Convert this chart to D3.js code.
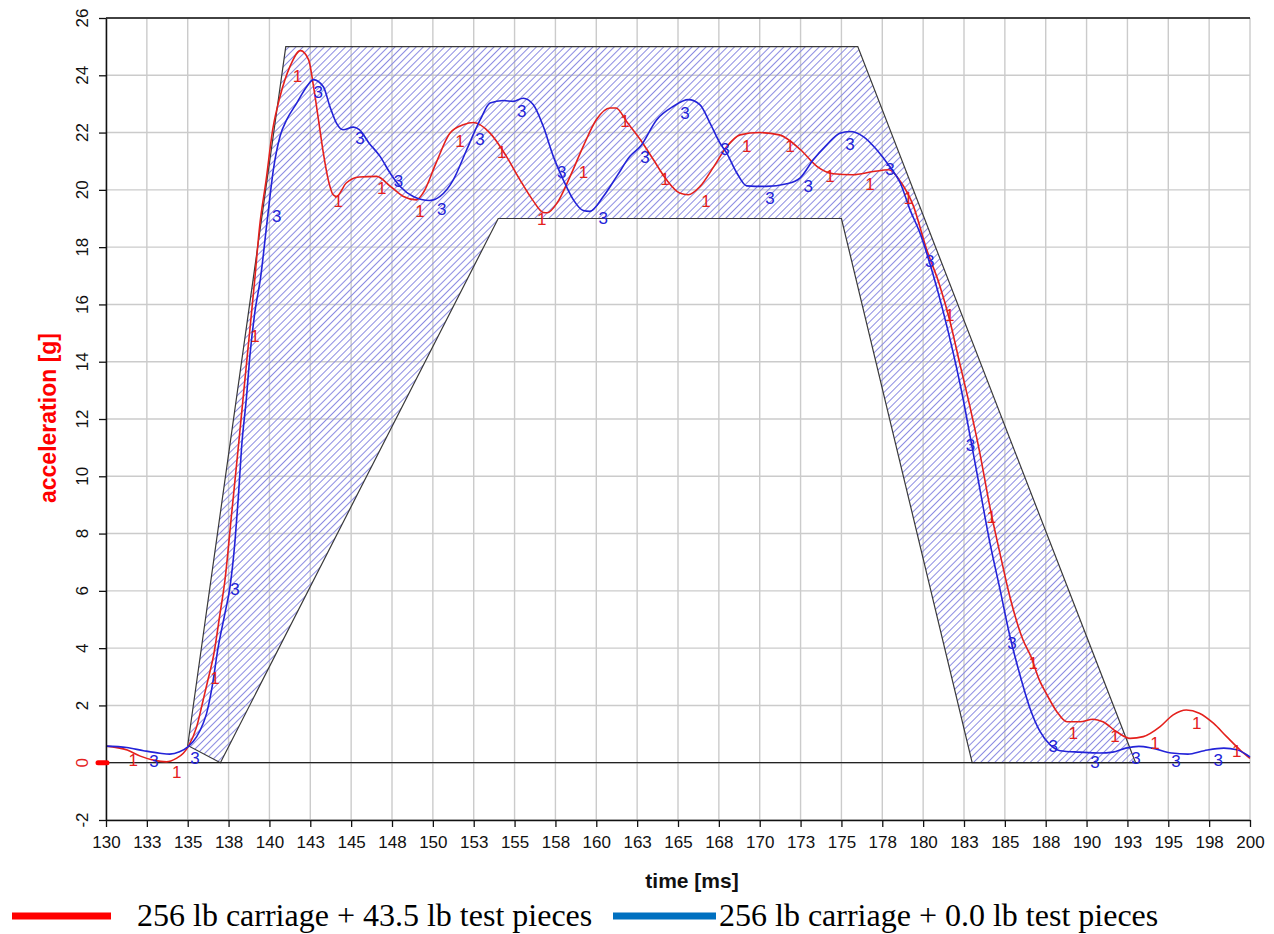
<!DOCTYPE html>
<html lang="en">
<head>
<meta charset="UTF-8">
<title>Sled pulse corridor</title>
<script src="https://d3js.org/d3.v7.min.js"></script>
<style>
  body { margin: 0; background: #fff; }
  svg { display: block; }
</style>
</head>
<body>
<svg id="chart" width="1274" height="934"></svg>
<script>
// ---- data (time in ms, acceleration in g) ----
const xTickValues = [130, 132.5, 135, 137.5, 140, 142.5, 145, 147.5, 150, 152.5, 155, 157.5, 160, 162.5, 165,
  167.5, 170, 172.5, 175, 177.5, 180, 182.5, 185, 187.5, 190, 192.5, 195, 197.5, 200];
const xTickLabels = ["130", "133", "135", "138", "140", "143", "145", "148", "150", "153", "155", "158", "160", "163", "165",
  "168", "170", "173", "175", "178", "180", "183", "185", "188", "190", "193", "195", "198", "200"];
const yTickValues = [-2, 0, 2, 4, 6, 8, 10, 12, 14, 16, 18, 20, 22, 24, 26];
const yTickLabels = ["-2", "0", "2", "4", "6", "8", "10", "12", "14", "16", "18", "20", "22", "24", "26"];

// corridor: outer (upper) bound then inner (lower) bound
const corridorOuter = [[135, 0.6], [141, 25], [176, 25], [193, 0]];
const corridorInner = [[183, 0], [175, 19], [154, 19], [137, 0]];

// test 1: 256 lb carriage + 43.5 lb
const redCurve = [
  [130, 0.58], [131.3, 0.44], [132.1, 0.23], [132.9, 0.09], [133.7, 0.03], [134.3, 0.15], [134.73, 0.33],
  [135.03, 0.56], [135.55, 1.26], [135.95, 2.2], [136.2, 2.8], [136.6, 3.8], [136.98, 5.22], [137.28, 6.38],
  [137.69, 8.71], [138.1, 11.04], [138.5, 13.37], [138.8, 15.1], [139.1, 16.86], [139.4, 18.72],
  [139.8, 20.35], [140.2, 22.1], [140.65, 23.26], [141.26, 24.31], [141.9, 24.86], [142.4, 24.54],
  [142.7, 23.6], [143.0, 22.45], [143.3, 21.28], [143.6, 20.35], [143.9, 19.83], [144.1, 19.77],
  [144.7, 20.24], [145.5, 20.45], [146.56, 20.47], [147.4, 20.12], [148.2, 19.77], [149.0, 19.65],
  [149.4, 19.89], [150.2, 20.94], [151.04, 21.98], [151.86, 22.27], [152.5, 22.35], [153.5, 21.98],
  [154.5, 21.17], [155.33, 20.35], [156.1, 19.65], [156.76, 19.21], [157.0, 19.2], [157.6, 19.54],
  [158.4, 20.47], [159.2, 21.52], [160.0, 22.45], [160.84, 22.86], [161.2, 22.86], [161.9, 22.35],
  [162.7, 21.75], [163.5, 21.05], [164.3, 20.35], [165.1, 19.89], [165.63, 19.83], [166.35, 20.12],
  [167.2, 20.82], [168.0, 21.52], [168.8, 21.92], [170.0, 22.0], [171.2, 21.92], [172.5, 21.4],
  [173.5, 20.82], [174.5, 20.56], [175.7, 20.53], [176.95, 20.64], [177.9, 20.7], [178.6, 20.3],
  [179.4, 19.44], [180.2, 17.94], [181.0, 16.69], [181.63, 15.44], [182.24, 13.94], [182.86, 12.44],
  [183.47, 10.81], [184.08, 8.94], [184.7, 7.31], [185.3, 5.81], [186.1, 4.3], [186.6, 3.7],
  [187.1, 2.9], [187.55, 2.4], [188.16, 1.8], [188.8, 1.43], [189.6, 1.43], [190.4, 1.52],
  [191.0, 1.43], [191.84, 1.08], [192.66, 0.85], [193.47, 0.91], [194.5, 1.26], [195.3, 1.67],
  [196.1, 1.84], [196.9, 1.73], [197.76, 1.38], [198.57, 0.91], [199.4, 0.44], [200, 0.15]
];

// test 3: 256 lb carriage + 0.0 lb
const blueCurve = [
  [130, 0.58], [131.27, 0.53], [132.3, 0.42], [133.3, 0.33], [133.9, 0.3], [134.5, 0.38], [135.03, 0.56],
  [135.55, 0.91], [135.95, 1.38], [136.16, 1.73], [136.46, 2.54], [136.87, 4.05], [137.28, 5.22],
  [137.59, 6.15], [137.9, 7.78], [138.1, 9.29], [138.3, 11.04], [138.6, 12.78], [138.8, 14.18],
  [139.1, 15.7], [139.45, 16.9], [139.87, 18.96], [140.24, 20.7], [140.65, 21.87], [141.06, 22.45],
  [141.67, 23.03], [142.28, 23.6], [142.69, 23.85], [143.3, 23.6], [143.7, 22.91], [144.1, 22.33],
  [144.5, 22.1], [145.13, 22.19], [145.5, 22.1], [146.1, 21.63], [146.77, 21.17], [147.38, 20.59],
  [148.0, 20.12], [148.8, 19.77], [149.8, 19.63], [150.44, 19.77], [151.25, 20.35], [152.07, 21.4],
  [152.9, 22.45], [153.5, 23.03], [154.3, 23.12], [154.92, 23.09], [155.53, 23.2], [156.15, 22.97],
  [156.76, 22.21], [157.37, 21.17], [157.98, 20.35], [158.6, 19.65], [159.2, 19.28], [159.6, 19.25],
  [160.43, 19.77], [161.25, 20.47], [162.06, 21.17], [162.7, 21.52], [163.7, 22.45], [164.7, 22.91],
  [165.63, 23.15], [166.35, 22.97], [166.96, 22.33], [167.57, 21.63], [167.98, 21.28], [168.6, 20.59],
  [169.2, 20.14], [170.4, 20.12], [171.65, 20.21], [172.46, 20.41], [173.28, 21.05], [174.1, 21.57],
  [174.9, 21.98], [175.52, 22.04], [176.34, 21.86], [177.16, 21.4], [177.97, 20.8], [178.6, 20.24],
  [179.2, 19.3], [179.8, 18.5], [180.6, 17.06], [181.2, 15.81], [181.84, 14.31], [182.45, 12.69],
  [182.86, 11.44], [183.47, 9.56], [184.08, 7.69], [184.7, 6.06], [185.3, 4.44], [185.92, 3.07],
  [186.53, 1.91], [187.14, 1.1], [187.76, 0.63], [188.37, 0.42], [189.6, 0.37], [190.8, 0.34],
  [191.6, 0.37], [192.4, 0.51], [193.2, 0.57], [194.0, 0.51], [195.2, 0.34], [196.2, 0.3],
  [197.2, 0.42], [198.4, 0.51], [199.2, 0.45], [200, 0.2]
];

// curve id markers ("1" red, "3" blue) as [time, g]
const redMarks = [
  [131.67, 0.06], [134.33, -0.35], [136.67, 2.95], [139.12, 14.88], [141.72, 23.96], [144.21, 19.6],
  [146.87, 20.06], [149.21, 19.25], [151.66, 21.69], [154.21, 21.29], [156.66, 18.96], [159.21, 20.59],
  [161.76, 22.39], [164.2, 20.35], [166.71, 19.6], [169.2, 21.52], [171.85, 21.52], [174.3, 20.47],
  [176.75, 20.18], [179.09, 19.71], [181.63, 15.63], [184.18, 8.56], [186.74, 3.47], [189.19, 1.03],
  [191.74, 0.91], [194.19, 0.68], [196.74, 1.38], [199.19, 0.38]
];
const blueMarks = [
  [132.94, 0.03], [135.45, 0.13], [137.89, 6.03], [140.44, 19.07], [142.99, 23.41], [145.54, 21.81],
  [147.89, 20.29], [150.54, 19.3], [152.88, 21.75], [155.44, 22.74], [157.88, 20.59], [160.43, 19.01],
  [162.98, 21.14], [165.43, 22.68], [167.88, 21.4], [170.63, 19.71], [172.97, 20.12], [175.52, 21.58],
  [177.97, 20.7], [180.41, 17.5], [182.9, 11.06], [185.44, 4.15], [187.96, 0.56], [190.52, 0.0],
  [193.02, 0.15], [195.47, 0.03], [198.06, 0.06]
];

const legendItems = [
  {label: "256 lb carriage + 43.5 lb test pieces", color: "#ff0000"},
  {label: "256 lb carriage + 0.0 lb test pieces", color: "#0070c0"}
];

// ---- layout ----
const svg = d3.select("#chart");
const x = d3.scaleLinear().domain([130, 200]).range([106, 1250]);
const y = d3.scaleLinear().domain([-2, 26]).range([820, 18]);
const sans = "Liberation Sans, Arial, sans-serif";

const defs = svg.append("defs");
const pat = defs.append("pattern")
    .attr("id", "hatch")
    .attr("patternUnits", "userSpaceOnUse")
    .attr("width", 5)
    .attr("height", 5)
    .attr("patternTransform", "rotate(45)");
pat.append("line")
    .attr("x1", 2.5).attr("y1", 0)
    .attr("x2", 2.5).attr("y2", 5)
    .attr("stroke", "#8c8ce2")
    .attr("stroke-width", 1);

// grid
svg.append("g").selectAll("line")
    .data(xTickValues)
    .join("line")
    .attr("x1", d => x(d)).attr("x2", d => x(d))
    .attr("y1", y(26)).attr("y2", y(-2))
    .attr("stroke", "#cbcbcb")
    .attr("stroke-width", 1.4);

svg.append("g").selectAll("line")
    .data(yTickValues)
    .join("line")
    .attr("x1", x(130)).attr("x2", x(200))
    .attr("y1", d => y(d)).attr("y2", d => y(d))
    .attr("stroke", "#cbcbcb")
    .attr("stroke-width", 1.4);

// corridor
const poly = corridorOuter.concat(corridorInner);
const polyLine = d3.line().x(d => x(d[0])).y(d => y(d[1]));
svg.append("path")
    .attr("d", polyLine(poly) + "Z")
    .attr("fill", "url(#hatch)")
    .attr("stroke", "#3a3a3a")
    .attr("stroke-width", 1.2);

// zero line and top border
svg.append("line")
    .attr("x1", x(130)).attr("x2", x(200))
    .attr("y1", y(0)).attr("y2", y(0))
    .attr("stroke", "#222").attr("stroke-width", 1.3);
svg.append("line")
    .attr("x1", x(130)).attr("x2", x(200))
    .attr("y1", y(26)).attr("y2", y(26))
    .attr("stroke", "#111").attr("stroke-width", 1.5);

// curves
const curve = d3.line()
    .x(d => x(d[0]))
    .y(d => y(d[1]))
    .curve(d3.curveMonotoneX);

svg.append("path")
    .datum(redCurve)
    .attr("d", curve)
    .attr("fill", "none")
    .attr("stroke", "#e4201c")
    .attr("stroke-width", 1.6);

svg.append("path")
    .datum(blueCurve)
    .attr("d", curve)
    .attr("fill", "none")
    .attr("stroke", "#2323d8")
    .attr("stroke-width", 1.6);

// curve markers
function drawMarks(data, txt, color) {
  svg.append("g").selectAll("text")
      .data(data)
      .join("text")
      .attr("x", d => x(d[0]))
      .attr("y", d => y(d[1]))
      .attr("text-anchor", "middle")
      .attr("dominant-baseline", "central")
      .attr("font-family", sans)
      .attr("font-size", "17px")
      .attr("fill", color)
      .text(txt);
}
drawMarks(redMarks, "1", "#e4201c");
drawMarks(blueMarks, "3", "#2323d8");

// axes
const xAxis = d3.axisBottom(x)
    .tickValues(xTickValues)
    .tickFormat((d, i) => xTickLabels[i])
    .tickSize(7)
    .tickSizeOuter(0);
const gx = svg.append("g")
    .attr("transform", `translate(0,${y(-2)})`)
    .call(xAxis);
gx.select(".domain").attr("stroke", "#111").attr("stroke-width", 1.5);
gx.selectAll(".tick line").attr("stroke", "#111").attr("stroke-width", 1.3);
gx.selectAll(".tick text")
    .attr("font-family", sans)
    .attr("font-size", "17px")
    .attr("fill", "#111")
    .attr("dy", "1.05em");

const yAxis = d3.axisLeft(y)
    .tickValues(yTickValues)
    .tickFormat("")
    .tickSize(7)
    .tickSizeOuter(0);
const gy = svg.append("g")
    .attr("transform", `translate(${x(130)},0)`)
    .call(yAxis);
gy.select(".domain").attr("stroke", "#111").attr("stroke-width", 1.5);
gy.selectAll(".tick line").attr("stroke", "#111").attr("stroke-width", 1.3);
gy.selectAll(".tick text").remove();

// rotated y tick labels
svg.append("g").selectAll("text")
    .data(yTickValues)
    .join("text")
    .attr("transform", d => `translate(${x(130) - 18},${y(d)}) rotate(-90)`)
    .attr("text-anchor", "middle")
    .attr("font-family", sans)
    .attr("font-size", "17px")
    .attr("fill", d => d === 0 ? "#e4201c" : "#111")
    .text((d, i) => yTickLabels[i]);

// red zero marker on y axis
svg.append("line")
    .attr("x1", x(130) - 8).attr("x2", x(130) + 1)
    .attr("y1", y(0)).attr("y2", y(0))
    .attr("stroke", "#ff0000")
    .attr("stroke-width", 5)
    .attr("stroke-linecap", "round");

// axis titles
svg.append("text")
    .attr("transform", "translate(56,418) rotate(-90)")
    .attr("text-anchor", "middle")
    .attr("font-family", sans)
    .attr("font-weight", "bold")
    .attr("font-size", "23px")
    .attr("fill", "#ff0000")
    .text("acceleration [g]");

svg.append("text")
    .attr("x", 692)
    .attr("y", 888)
    .attr("text-anchor", "middle")
    .attr("font-family", sans)
    .attr("font-weight", "bold")
    .attr("font-size", "21px")
    .attr("fill", "#111")
    .text("time [ms]");

// legend
const legendPos = [{x0: 12, x1: 111, tx: 137}, {x0: 613, x1: 716, tx: 719}];
const lg = svg.append("g");
legendItems.forEach((d, i) => {
  const p = legendPos[i];
  lg.append("line")
      .attr("x1", p.x0).attr("x2", p.x1)
      .attr("y1", 916).attr("y2", 916)
      .attr("stroke", d.color)
      .attr("stroke-width", 7);
  lg.append("text")
      .attr("x", p.tx)
      .attr("y", 926)
      .attr("font-family", "Liberation Serif, Times New Roman, serif")
      .attr("font-size", "32px")
      .attr("fill", "#000")
      .text(d.label);
});
</script>
</body>
</html>
